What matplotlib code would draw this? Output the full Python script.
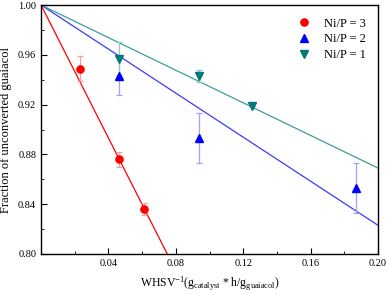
import matplotlib
matplotlib.use("Agg")
import matplotlib.pyplot as plt
import numpy as np

plt.rcParams['font.family'] = ['Liberation Serif', 'DejaVu Serif']
plt.rcParams['mathtext.fontset'] = 'custom'
plt.rcParams['mathtext.rm'] = 'Liberation Serif'
plt.rcParams['mathtext.it'] = 'Liberation Serif:italic'

# Ni/P = 3
x3 = [0.023, 0.046, 0.061]
y3 = [0.949, 0.876, 0.836]
e3 = [0.010, 0.006, 0.005]
slope3 = -2.67

# Ni/P = 2
x2 = [0.046, 0.094, 0.187]
y2 = [0.943, 0.893, 0.853]
e2 = [0.015, 0.020, 0.020]
slope2 = -0.885

# Ni/P = 1
x1 = [0.046, 0.094, 0.125]
y1 = [0.957, 0.943, 0.919]
e1 = [0.013, 0.005, 0.0]
slope1 = -0.655

xticks = [0.04, 0.08, 0.12, 0.16, 0.20]
yticks = [0.80, 0.84, 0.88, 0.92, 0.96, 1.00]

fig = plt.figure(figsize=(3.87, 2.95), dpi=100)
ax = fig.add_axes([0.106, 0.139, 0.871, 0.844])

xl = np.array([0.0, 0.2])
series = [
    (x3, y3, e3, slope3, 'o', '#ff0000', '#ff0000', '#f4a0a0', 'Ni/P = 3'),
    (x2, y2, e2, slope2, '^', '#0000ff', '#3a3aff', '#a0a0ff', 'Ni/P = 2'),
    (x1, y1, e1, slope1, 'v', '#007a7a', '#3a9f9a', '#8fc8c4', 'Ni/P = 1'),
]
for xs, ys, es, s, m, mc, lc, ec, lab in series:
    ax.plot(xl, 1 + s * xl, color=lc, lw=0.9, zorder=2)
    ax.errorbar(xs, ys, yerr=es, fmt='none', ecolor=ec, elinewidth=0.9,
                capsize=2.5, capthick=0.9, zorder=3)
    ax.plot(xs, ys, ls='none', marker=m, color=mc, ms=5.2, zorder=4, label=lab)

ax.set_xlim(0, 0.20)
ax.set_ylim(0.80, 1.00)
ax.set_xticks(xticks)
ax.set_xticklabels(['%.2f' % v for v in xticks])
ax.set_yticks(yticks)
ax.set_yticklabels(['%.2f' % v for v in yticks])
ax.set_xticks(np.arange(0.02, 0.20, 0.04), minor=True)
ax.set_yticks(np.arange(0.82, 1.00, 0.04), minor=True)
ax.tick_params(which='both', direction='in', labelsize=7.5, top=False, right=False)
ax.tick_params(which='major', length=4)
ax.tick_params(which='minor', length=2.5)
for sp in ax.spines.values():
    sp.set_linewidth(1.0)

ax.set_xlabel(r'WHSV$^{\mathrm{-1}}$(g$_{\mathrm{catalyst}}$ * h/g$_{\mathrm{guaiacol}}$)',
              fontsize=8.5, labelpad=5)
ax.set_ylabel('Fraction of unconverted guaiacol', fontsize=9)

ax.legend(loc='upper right', frameon=False, fontsize=9, handletextpad=0.6,
          labelspacing=0.3, borderaxespad=0.6)

fig.savefig('out.png', dpi=100)
